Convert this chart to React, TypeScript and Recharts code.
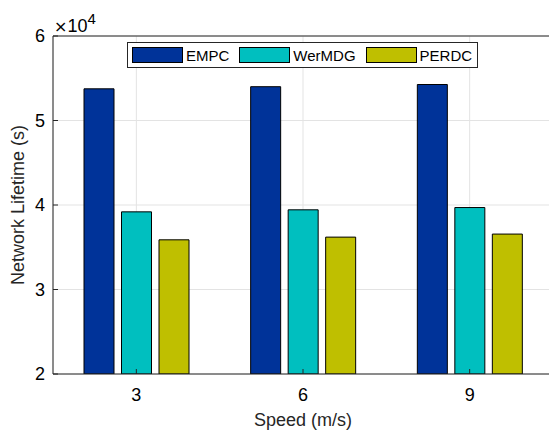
import React from "react";
import {
  Bar,
  BarChart,
  CartesianGrid,
  Label,
  Legend,
  XAxis,
  YAxis,
} from "recharts";

const speeds = ["3", "6", "9"];
const empc = [53750, 54000, 54260];
const werMDG = [39190, 39430, 39700];
const perdc = [35880, 36200, 36560];
const yTicks = [20000, 30000, 40000, 50000, 60000];

const series = [
  { key: "EMPC", values: empc, color: "#003399" },
  { key: "WerMDG", values: werMDG, color: "#00BFBF" },
  { key: "PERDC", values: perdc, color: "#BFBF00" },
];

const data = speeds.map((s, i) => {
  const row: Record<string, string | number> = { speed: s };
  series.forEach((sr) => (row[sr.key] = sr.values[i]));
  return row;
});

const font = "'Liberation Sans', Arial, sans-serif";

function LegendBox() {
  return (
    <div
      style={{
        display: "flex",
        alignItems: "center",
        border: "1px solid #262626",
        background: "#fff",
        height: 24,
        padding: "0 5px 0 4px",
        fontFamily: font,
        fontSize: 15,
        color: "#000",
        whiteSpace: "nowrap",
      }}
    >
      {series.map((s, i) => (
        <div
          key={s.key}
          style={{
            display: "flex",
            alignItems: "center",
            marginRight: i < series.length - 1 ? 10 : 0,
          }}
        >
          <div
            style={{
              width: 49,
              height: 14,
              background: s.color,
              border: "1px solid #000",
              marginRight: 3,
            }}
          />
          <span>{s.key}</span>
        </div>
      ))}
    </div>
  );
}

export default function App() {
  return (
    <div style={{ position: "absolute", left: 0, top: 0, background: "#fff" }}>
      <BarChart
        width={549}
        height={430}
        data={data}
        margin={{ top: 35, right: -4, bottom: 0, left: 0 }}
        barSize={30}
        barGap={7.5}
        style={{ fontFamily: font }}
      >
        <CartesianGrid stroke="#e3e3e3" strokeWidth={1} />
        <XAxis
          xAxisId="top"
          dataKey="speed"
          orientation="top"
          height={1}
          tick={false}
          tickSize={-5}
          axisLine={{ stroke: "#262626" }}
          tickLine={{ stroke: "#262626" }}
        />
        <XAxis
          dataKey="speed"
          height={56}
          tickSize={-5}
          tickMargin={19}
          axisLine={{ stroke: "#262626" }}
          tickLine={{ stroke: "#262626" }}
          tick={{ fill: "#000", fontSize: 18 }}
        >
          <Label
            content={(props: any) => {
              const vb = props.viewBox;
              return (
                <text
                  x={vb.x + vb.width / 2}
                  y={vb.y + 52}
                  textAnchor="middle"
                  fontSize={18}
                  fill="#262626"
                >
                  Speed (m/s)
                </text>
              );
            }}
          />
        </XAxis>
        <YAxis
          width={53}
          domain={[20000, 60000]}
          ticks={yTicks}
          interval={0}
          allowDataOverflow
          tickFormatter={(v: number) => String(v / 10000)}
          tickSize={-5}
          tickMargin={13}
          axisLine={{ stroke: "#262626" }}
          tickLine={{ stroke: "#262626" }}
          tick={{ fill: "#000", fontSize: 18 }}
        >
          <Label
            content={(props: any) => {
              const vb = props.viewBox;
              const cy = vb.y + vb.height / 2;
              return (
                <text
                  x={24}
                  y={cy}
                  transform={`rotate(-90 24 ${cy})`}
                  textAnchor="middle"
                  fontSize={18}
                  fill="#262626"
                >
                  Network Lifetime (s)
                </text>
              );
            }}
          />
          <Label
            content={(props: any) => {
              const vb = props.viewBox;
              return (
                <text x={vb.x + vb.width + 1} y={vb.y - 4} fontSize={18} fill="#000">
                  <tspan fontFamily="'DejaVu Sans'" fontSize={16}>×</tspan>
                  10
                  <tspan fontSize={15} dy={-8}>
                    4
                  </tspan>
                </text>
              );
            }}
          />
        </YAxis>
        <Legend
          layout="vertical"
          align="center"
          verticalAlign="middle"
          content={() => <LegendBox />}
          wrapperStyle={{ left: 127, top: 42, width: "auto" }}
        />
        {series.map((s) => (
          <Bar
            key={s.key}
            dataKey={s.key}
            fill={s.color}
            stroke="#000"
            strokeWidth={1}
            isAnimationActive={false}
          />
        ))}
      </BarChart>
    </div>
  );
}
